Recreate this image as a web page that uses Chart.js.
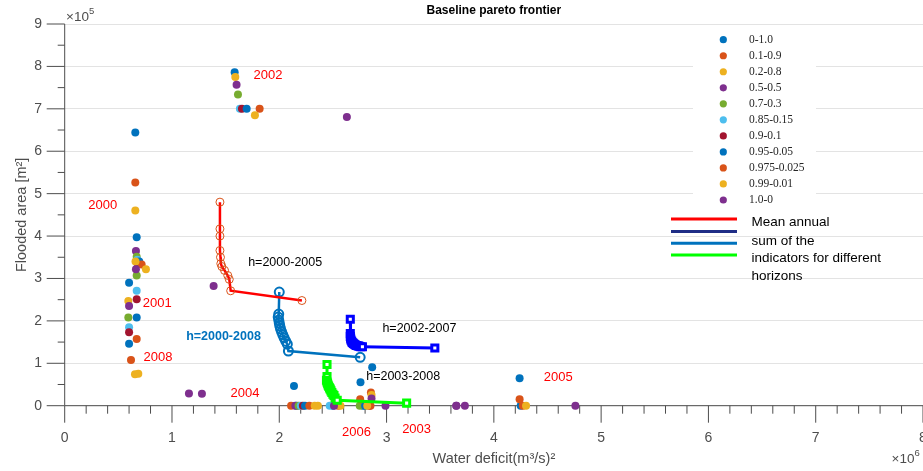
<!DOCTYPE html>
<html>
<head>
<meta charset="utf-8">
<script src="https://cdn.jsdelivr.net/npm/chart.js@4.4.0/dist/chart.umd.min.js"></script>
<style>
  html, body { margin: 0; padding: 0; background: #fff; }
</style>
</head>
<body>
<canvas id="chart" width="923" height="471"></canvas>
<script>
// x: water deficit in 1e6 (m3/s)^2, y: flooded area in 1e5 m2
const weightLabels = ['0-1.0', '0.1-0.9', '0.2-0.8', '0.5-0.5', '0.7-0.3', '0.85-0.15',
                      '0.9-0.1', '0.95-0.05', '0.975-0.025', '0.99-0.01', '1.0-0'];
const weightColors = ['#0072BD', '#D95319', '#EDB120', '#7E2F8E', '#77AC30', '#4DBEEE',
                      '#A2142F', '#0072BD', '#D95319', '#EDB120', '#7E2F8E'];

const pts_0_10    = [[0.658, 6.44], [0.60, 2.90], [0.671, 2.08], [1.584, 7.86], [2.16, 0], [2.50, 0], [2.78, 0], [4.25, 0]];
const pts_01_09   = [[0.658, 5.26], [0.671, 1.57], [1.817, 7.0], [2.11, 0], [2.854, 0.31], [4.24, 0.15], [2.55, 0]];
const pts_02_08   = [[0.658, 4.60], [0.593, 2.47], [0.655, 0.74], [1.59, 7.75], [2.36, 0], [2.57, 0], [2.86, 0.25]];
const pts_05_05   = [[0.664, 3.65], [0.60, 2.35], [1.158, 0.29], [1.602, 7.57], [2.15, 0], [2.86, 0.17], [3.65, 0]];
const pts_07_03   = [[0.671, 3.51], [0.671, 3.07], [0.593, 2.08], [1.615, 7.34], [2.18, 0], [2.75, 0]];
const pts_085_015 = [[0.677, 3.44], [0.671, 2.71], [0.60, 1.85], [1.633, 7.0], [2.20, 0], [2.47, 0]];
const pts_09_01   = [[0.68, 3.36], [0.671, 2.51], [0.60, 1.73], [1.652, 7.0], [2.22, 0], [2.84, 0]];
const pts_095_005 = [[0.671, 3.97], [0.695, 3.40], [0.60, 1.46], [1.696, 7.0], [2.137, 0.465], [2.866, 0.905], [2.757, 0.55], [4.24, 0.646], [2.24, 0], [2.80, 0]];
const pts_0975_0025 = [[0.717, 3.33], [0.618, 1.08], [2.754, 0.15], [2.28, 0], [2.85, 0], [4.27, 0]];
const pts_099_001 = [[0.757, 3.22], [0.686, 0.755], [0.66, 3.40], [1.773, 6.85], [2.33, 0], [2.82, 0], [4.30, 0]];
const pts_10_0    = [[0.664, 3.22], [1.279, 0.28], [1.388, 2.82], [2.63, 6.81], [2.51, 0], [2.99, 0], [3.65, 0], [3.73, 0], [4.76, 0]];

const scatterSeries = [pts_0_10, pts_01_09, pts_02_08, pts_05_05, pts_07_03, pts_085_015,
                       pts_09_01, pts_095_005, pts_0975_0025, pts_099_001, pts_10_0];

// pareto frontiers for the different horizons
const front_2000_2005 = [[1.447, 4.80], [1.447, 4.17], [1.447, 4.0], [1.447, 3.66], [1.452, 3.5], [1.455, 3.35],
                         [1.465, 3.28], [1.49, 3.19], [1.52, 3.07], [1.534, 2.98], [1.547, 2.71], [2.211, 2.48]];
const front_2000_2008 = [[2.0, 2.68], [1.995, 2.16], [1.99, 2.09], [1.995, 2.02], [2.0, 1.95], [2.005, 1.88],
                         [2.012, 1.81], [2.022, 1.74], [2.033, 1.67], [2.045, 1.60], [2.06, 1.52], [2.075, 1.45],
                         [2.085, 1.29], [2.754, 1.14]];
const front_2002_2007 = [[2.662, 2.04], [2.662, 1.70], [2.662, 1.63], [2.665, 1.59], [2.668, 1.55], [2.675, 1.52],
                         [2.68, 1.49], [2.69, 1.47], [2.70, 1.45], [2.71, 1.43], [2.72, 1.42], [2.735, 1.41],
                         [2.745, 1.40], [2.76, 1.39], [2.775, 1.39], [3.45, 1.36]];
const front_2003_2008 = [[2.445, 0.97], [2.445, 0.69], [2.44, 0.60], [2.445, 0.56], [2.45, 0.53], [2.455, 0.49],
                         [2.46, 0.46], [2.468, 0.42], [2.475, 0.39], [2.482, 0.35], [2.49, 0.31], [2.50, 0.27],
                         [2.51, 0.24], [2.52, 0.18], [2.54, 0.13], [3.187, 0.06]];

const yearNotes = [
    { text: '2000', x: 0.354, y: 4.73 }, { text: '2001', x: 0.862, y: 2.41 },
    { text: '2002', x: 1.894, y: 7.78 }, { text: '2003', x: 3.28, y: -0.56 },
    { text: '2004', x: 1.68, y: 0.29 },  { text: '2005', x: 4.60, y: 0.66 },
    { text: '2006', x: 2.72, y: -0.64 }, { text: '2008', x: 0.869, y: 1.15 }
];
const horizonNotes = [
    { text: 'h=2000-2005', x: 2.055, y: 3.38, color: '#000', bold: false },
    { text: 'h=2000-2008', x: 1.48, y: 1.63, color: '#0072BD', bold: true },
    { text: 'h=2002-2007', x: 3.306, y: 1.81, color: '#000', bold: false },
    { text: 'h=2003-2008', x: 3.155, y: 0.68, color: '#000', bold: false }
];

const lineKeyColors = ['#FF0000', '#1F2D86', '#0072BD', '#00FF00'];
const lineKeyText = ['Mean annual', 'sum of the', 'indicators for different', 'horizons'];

const SANS = '"Liberation Sans", Arial, sans-serif';
const SERIF = '"Liberation Serif", "Times New Roman", serif';
const axisColor = '#4d4d4d';

const toXY = pairs => pairs.map(([x, y]) => ({ x, y }));

const datasets = scatterSeries.map((pts, i) => ({
    label: weightLabels[i],
    data: toXY(pts),
    showLine: false,
    pointRadius: 4,
    pointBorderWidth: 0,
    pointBackgroundColor: weightColors[i],
    borderColor: weightColors[i],
    clip: false,
    order: 20 - i
}));

function frontier(pts, lineColor, markColor, style, width, radius, markWidth) {
    return {
        type: 'line',
        data: toXY(pts),
        showLine: true,
        tension: 0,
        borderColor: lineColor,
        borderWidth: width,
        pointStyle: style,
        pointRadius: radius,
        pointBorderColor: markColor,
        pointBorderWidth: markWidth,
        pointBackgroundColor: style === 'rect' ? '#fff' : 'rgba(0,0,0,0)',
        clip: false,
        order: 0
    };
}
datasets.push(frontier(front_2000_2005, '#FF0000', '#D95319', 'circle', 2.5, 4, 1));
datasets.push(frontier(front_2000_2008, '#0072BD', '#0072BD', 'circle', 2.5, 4.5, 2));
datasets.push(frontier(front_2002_2007, '#0000FF', '#0000FF', 'rect', 3, 4.3, 3));
datasets.push(frontier(front_2003_2008, '#00FF00', '#00FF00', 'rect', 3, 4.3, 3));

// axes, ticks, legend and notes drawn by hand, MATLAB style
const decor = {
    id: 'decor',
    beforeDatasetsDraw(chart) {
        const { ctx, chartArea: a, scales: { x, y } } = chart;
        ctx.save();
        // legend box hides the grid
        ctx.fillStyle = '#fff';
        ctx.fillRect(693, 28, 123, 181);

        ctx.strokeStyle = axisColor;
        ctx.lineWidth = 1;
        ctx.beginPath();
        ctx.moveTo(a.left, a.top);
        ctx.lineTo(a.left, a.bottom);
        ctx.lineTo(a.right, a.bottom);
        x.ticks.forEach((t, i) => {
            const px = x.getPixelForValue(t.value);
            ctx.moveTo(px, a.bottom);
            ctx.lineTo(px, a.bottom + 17);
            if (i < x.ticks.length - 1) {
                for (let k = 1; k < 5; k++) {
                    const mx = x.getPixelForValue(t.value + k * 0.2);
                    ctx.moveTo(mx, a.bottom);
                    ctx.lineTo(mx, a.bottom + 8);
                }
            }
        });
        y.ticks.forEach((t, i) => {
            const py = y.getPixelForValue(t.value);
            ctx.moveTo(a.left - 18, py);
            ctx.lineTo(a.left, py);
            if (i < y.ticks.length - 1) {
                const my = y.getPixelForValue(t.value + 0.5);
                ctx.moveTo(a.left - 7, my);
                ctx.lineTo(a.left, my);
            }
        });
        ctx.stroke();

        ctx.fillStyle = axisColor;
        ctx.font = '14px ' + SANS;
        ctx.textAlign = 'center';
        ctx.textBaseline = 'middle';
        x.ticks.forEach(t => ctx.fillText(String(t.value), x.getPixelForValue(t.value), 438));
        ctx.textAlign = 'right';
        y.ticks.forEach(t => ctx.fillText(String(t.value), 42, y.getPixelForValue(t.value)));

        // exponents
        const expo = (xl, yc, base, pow) => {
            ctx.textAlign = 'left';
            ctx.font = '13.5px ' + SANS;
            ctx.fillText(base, xl, yc);
            const w = ctx.measureText(base).width;
            ctx.font = '9.5px ' + SANS;
            ctx.fillText(pow, xl + w, yc - 6);
        };
        expo(66, 17.5, '\u00d710', '5');
        expo(891.5, 459.5, '\u00d710', '6');

        // axis titles
        ctx.font = '14.5px ' + SANS;
        ctx.textAlign = 'center';
        ctx.fillText('Water deficit(m\u00b3/s)\u00b2', (a.left + a.right) / 2, 459);
        ctx.save();
        ctx.translate(22, (a.top + a.bottom) / 2);
        ctx.rotate(-Math.PI / 2);
        ctx.fillText('Flooded area [m\u00b2]', 0, 0);
        ctx.restore();

        // title
        ctx.fillStyle = '#000';
        ctx.font = 'bold 12px ' + SANS;
        ctx.fillText('Baseline pareto frontier', (a.left + a.right) / 2, 11);
        ctx.restore();
    },
    afterDatasetsDraw(chart) {
        const { ctx, scales: { x, y } } = chart;
        ctx.save();
        ctx.textBaseline = 'middle';

        // weight legend
        weightLabels.forEach((lab, i) => {
            const cy = 39.7 + i * 16.03;
            ctx.fillStyle = weightColors[i];
            ctx.beginPath();
            ctx.arc(723.3, cy, 3.6, 0, Math.PI * 2);
            ctx.fill();
            ctx.fillStyle = '#262626';
            ctx.font = '11.5px ' + SERIF;
            ctx.textAlign = 'left';
            ctx.fillText(lab, 749, cy);
        });

        // frontier legend
        const keyY = [219, 231.5, 243.3, 255];
        lineKeyColors.forEach((c, i) => {
            ctx.strokeStyle = c;
            ctx.lineWidth = 3;
            ctx.beginPath();
            ctx.moveTo(671, keyY[i]);
            ctx.lineTo(737, keyY[i]);
            ctx.stroke();
        });
        const textY = [222.5, 241.5, 258.5, 276];
        ctx.fillStyle = '#000';
        ctx.font = '13.5px ' + SANS;
        lineKeyText.forEach((t, i) => ctx.fillText(t, 751.5, textY[i]));

        // notes
        ctx.textAlign = 'center';
        ctx.font = '13px ' + SANS;
        ctx.fillStyle = '#FF0000';
        yearNotes.forEach(n => ctx.fillText(n.text, x.getPixelForValue(n.x), y.getPixelForValue(n.y)));
        horizonNotes.forEach(n => {
            ctx.font = (n.bold ? 'bold ' : '') + '12.5px ' + SANS;
            ctx.fillStyle = n.color;
            ctx.fillText(n.text, x.getPixelForValue(n.x), y.getPixelForValue(n.y));
        });
        ctx.restore();
    }
};

new Chart(document.getElementById('chart'), {
    type: 'scatter',
    data: { datasets },
    options: {
        responsive: false,
        animation: false,
        devicePixelRatio: 1,
        layout: { autoPadding: false, padding: { top: 24, left: 0, right: 0, bottom: 0 } },
        plugins: { legend: { display: false }, tooltip: { enabled: false } },
        scales: {
            x: {
                type: 'linear', min: 0, max: 8,
                ticks: { display: false, stepSize: 1 },
                grid: { display: false },
                border: { display: false },
                afterFit: s => { s.height = 65.3; }
            },
            y: {
                type: 'linear', min: 0, max: 9,
                ticks: { display: false, stepSize: 1 },
                grid: { color: '#e3e3e3', drawTicks: false },
                border: { display: false },
                afterFit: s => { s.width = 64.7; }
            }
        }
    },
    plugins: [decor]
});
</script>
</body>
</html>
